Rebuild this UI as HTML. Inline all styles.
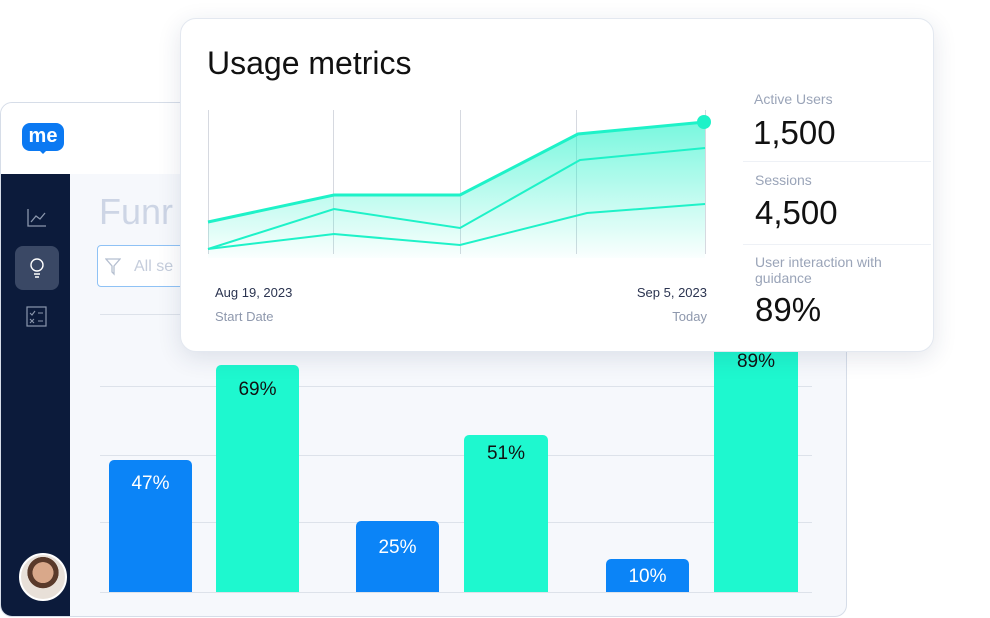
<!DOCTYPE html>
<html><head><style>
body{margin:0;width:990px;height:618px;background:#fff;position:relative;overflow:hidden;font-family:"Liberation Sans",sans-serif}
.abs{position:absolute}
</style></head><body>
<div class="abs" style="left:0;top:102px;width:845px;height:513px;border:1px solid #d6dde8;border-radius:12px;background:#f6f8fc;overflow:hidden">
  <div class="abs" style="left:0;top:0;width:845px;height:71px;background:#fff"></div>
  <div class="abs" style="left:0;top:71px;width:69px;height:450px;background:#0c1b3b"></div>
  <div class="abs" style="left:21px;top:20px;width:42px;height:28px;background:#0b79f2;border-radius:8px;color:#fff;font-weight:bold;font-size:20px;line-height:26px;text-align:center">me</div>
  <div class="abs" style="left:37px;top:46px;width:0;height:0;border-left:5px solid transparent;border-right:5px solid transparent;border-top:5px solid #0b79f2"></div>
  <svg class="abs" style="left:25px;top:104px" width="22" height="22"><path d="M2 2V19H20M5 15L10 9L14 12L19 6" stroke="#8b97ad" fill="none" stroke-width="1.3"/></svg>
  <div class="abs" style="left:14px;top:143px;width:44px;height:44px;background:#3a4865;border-radius:8px"></div>
  <svg class="abs" style="left:26px;top:153px" width="20" height="24"><circle cx="10" cy="9" r="6" stroke="#fff" fill="none" stroke-width="1.4"/><path d="M7 18H13M8 21H12" stroke="#fff" stroke-width="1.4"/></svg>
  <svg class="abs" style="left:25px;top:203px" width="22" height="22"><rect x="1" y="1" width="19" height="19" stroke="#8b97ad" fill="none" stroke-width="1.2"/><path d="M4 7L6 9L9 5M12 7H17M4 13L8 17M8 13L4 17M12 15H17" stroke="#8b97ad" fill="none" stroke-width="1.1"/></svg>
  <div class="abs" style="left:18px;top:450px;width:44px;height:44px;border-radius:50%;background:radial-gradient(circle at 50% 40%,#d9a88a 0 30%,#5a3a2a 31% 45%,#e8e0d8 46%);border:2px solid #fff"></div>
  <div class="abs" style="left:98px;top:88px;font-size:36px;color:#cdd5e5">Funr</div>
  <div class="abs" style="left:96px;top:142px;width:100px;height:42px;border:1px solid #8fc2f5;border-radius:4px;background:#fff;color:#c5cddc;font-size:16px;line-height:42px;padding-left:36px;box-sizing:border-box">All se</div>
  <svg class="abs" style="left:104px;top:155px" width="16" height="18"><path d="M1 1H15L9 8V16L7 14V8Z" stroke="#b5bfd0" fill="none" stroke-width="1.3"/></svg>
</div>
<div class="abs" style="left:100px;top:314px;width:712px;height:1px;background:#dde2ea"></div>
<div class="abs" style="left:100px;top:386px;width:712px;height:1px;background:#dde2ea"></div>
<div class="abs" style="left:100px;top:455px;width:712px;height:1px;background:#dde2ea"></div>
<div class="abs" style="left:100px;top:522px;width:712px;height:1px;background:#dde2ea"></div>
<div class="abs" style="left:100px;top:592px;width:712px;height:1px;background:#dde2ea"></div>
<div class="abs" style="left:109px;top:460px;width:83px;height:132px;background:#0b84f7;border-radius:5px 5px 0 0;color:#fff;font-size:19px;text-align:center;padding-top:13px;box-sizing:border-box">47%</div>
<div class="abs" style="left:216px;top:365px;width:83px;height:227px;background:#1ef8cf;border-radius:5px 5px 0 0;color:#111;font-size:19px;text-align:center;padding-top:14px;box-sizing:border-box">69%</div>
<div class="abs" style="left:356px;top:521px;width:83px;height:71px;background:#0b84f7;border-radius:5px 5px 0 0;color:#fff;font-size:19px;text-align:center;padding-top:16px;box-sizing:border-box">25%</div>
<div class="abs" style="left:464px;top:435px;width:84px;height:157px;background:#1ef8cf;border-radius:5px 5px 0 0;color:#111;font-size:19px;text-align:center;padding-top:8px;box-sizing:border-box">51%</div>
<div class="abs" style="left:606px;top:559px;width:83px;height:33px;background:#0b84f7;border-radius:5px 5px 0 0;color:#fff;font-size:19px;text-align:center;padding-top:7px;box-sizing:border-box">10%</div>
<div class="abs" style="left:714px;top:330px;width:84px;height:262px;background:#1ef8cf;color:#111;font-size:19px;text-align:center;padding-top:21px;box-sizing:border-box">89%</div>
<div class="abs" style="left:180px;top:18px;width:752px;height:332px;background:#fff;border:1px solid #e3e8f0;border-radius:16px;box-shadow:0 6px 24px rgba(30,50,90,.12)">
  <div class="abs" style="left:26px;top:26px;font-size:32px;color:#111">Usage metrics</div>
  <div class="abs" style="left:573px;top:72px;font-size:14px;color:#9aa4b8">Active Users</div>
  <div class="abs" style="left:572px;top:95px;font-size:33px;color:#111">1,500</div>
  <div class="abs" style="left:562px;top:142px;width:188px;height:1px;background:#eef1f6"></div>
  <div class="abs" style="left:574px;top:153px;font-size:14px;color:#9aa4b8">Sessions</div>
  <div class="abs" style="left:574px;top:175px;font-size:33px;color:#111">4,500</div>
  <div class="abs" style="left:562px;top:225px;width:188px;height:1px;background:#eef1f6"></div>
  <div class="abs" style="left:574px;top:235px;font-size:14px;line-height:16px;color:#9aa4b8">User interaction with<br>guidance</div>
  <div class="abs" style="left:574px;top:272px;font-size:33px;color:#111">89%</div>
  <div class="abs" style="left:34px;top:266px;font-size:13px;color:#2b3450">Aug 19, 2023</div>
  <div class="abs" style="left:34px;top:290px;font-size:13px;color:#8e98ad">Start Date</div>
  <div class="abs" style="left:430px;top:266px;width:96px;text-align:right;font-size:13px;color:#2b3450">Sep 5, 2023</div>
  <div class="abs" style="left:430px;top:290px;width:96px;text-align:right;font-size:13px;color:#8e98ad">Today</div>
</div>
<svg class="abs" style="left:0;top:0" width="990" height="618">
  <defs><linearGradient id="g" x1="0" y1="0" x2="0" y2="1"><stop offset="0" stop-color="#1ef2c8" stop-opacity=".6"/><stop offset="1" stop-color="#1ef2c8" stop-opacity="0.02"/></linearGradient></defs>
  <g stroke="#d6d9e0" stroke-width="1"><line x1="208.5" y1="110" x2="208.5" y2="254"/><line x1="333.5" y1="110" x2="333.5" y2="254"/><line x1="460.5" y1="110" x2="460.5" y2="254"/><line x1="576.5" y1="110" x2="576.5" y2="254"/><line x1="705.5" y1="110" x2="705.5" y2="254"/></g>
  <path d="M208 222L334 195L460 195L578 134L705 122V258H208Z" fill="url(#g)"/>
  <g fill="none" stroke="#1ef2c8"><path d="M208 222L334 195L460 195L578 134L705 122" stroke-width="3"/><path d="M208 249L334 209L460 228L580 160L705 148" stroke-width="2"/><path d="M208 249L334 234L460 245L587 213L705 204" stroke-width="2"/></g>
  <circle cx="704" cy="122" r="7" fill="#1ef2c8"/>
</svg>
</body></html>
